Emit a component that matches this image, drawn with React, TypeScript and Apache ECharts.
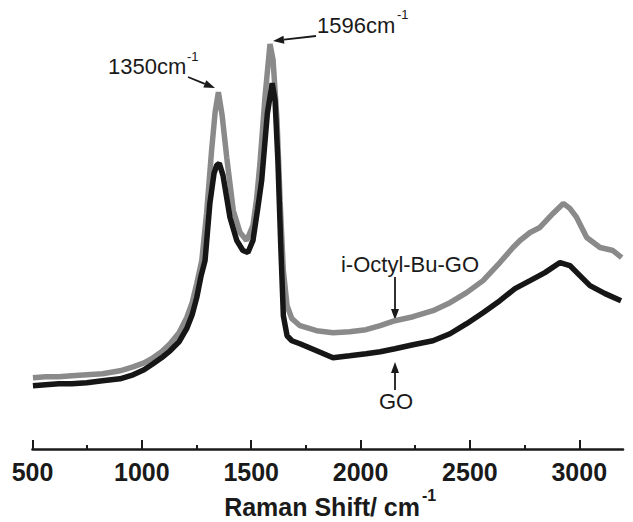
import React, { useEffect, useRef } from "react";
import * as echarts from "echarts";

// Raman spectra (intensity in arbitrary units)
const octylShift = [502, 560, 620, 680, 748, 820, 900, 960, 1010, 1051, 1090, 1129, 1170, 1205, 1230, 1251, 1274, 1296, 1319, 1335, 1350, 1367, 1388, 1418, 1449, 1479, 1508, 1525, 1540, 1563, 1586, 1600, 1618, 1632, 1647, 1664, 1686, 1723, 1799, 1874, 1950, 2025, 2090, 2157, 2240, 2331, 2409, 2485, 2560, 2637, 2697, 2729, 2775, 2820, 2850, 2880, 2927, 2957, 2988, 3034, 3095, 3154, 3194];
const octylIntensity = [71, 72, 72, 73, 74, 75, 78, 82, 86, 91, 97, 105, 116, 131, 146, 165, 188, 235, 298, 336, 356, 333, 291, 238, 216, 208, 223, 250, 285, 351, 404, 388, 328, 248, 178, 143, 130, 123, 118, 116, 117, 119, 123, 128, 132, 138, 146, 156, 168, 186, 201, 208, 216, 221, 228, 235, 245, 240, 231, 211, 201, 198, 191];

const goShift = [502, 560, 620, 680, 748, 820, 900, 960, 1010, 1051, 1090, 1129, 1170, 1205, 1230, 1251, 1270, 1289, 1311, 1330, 1342, 1354, 1371, 1403, 1434, 1462, 1485, 1508, 1530, 1548, 1574, 1596, 1609, 1622, 1636, 1647, 1664, 1686, 1723, 1799, 1874, 1950, 2025, 2090, 2157, 2240, 2331, 2409, 2485, 2560, 2637, 2706, 2775, 2843, 2912, 2957, 3003, 3049, 3118, 3191];
const goIntensity = [63, 64, 65, 65, 66, 68, 70, 74, 79, 85, 91, 98, 107, 120, 134, 151, 172, 188, 245, 275, 283, 285, 273, 231, 208, 198, 196, 208, 240, 268, 335, 365, 348, 288, 198, 133, 113, 108, 105, 98, 91, 93, 95, 97, 100, 104, 108, 115, 125, 136, 148, 160, 168, 176, 186, 183, 173, 163, 155, 148];

const majorTicks = [500, 1000, 1500, 2000, 2500, 3000];
const minorTicks = [750, 1250, 1750, 2250, 2750];

const FONT = "'Liberation Sans', Arial, sans-serif";
const INK = "#1a1a1a";

function arrow(x1: number, y1: number, x2: number, y2: number) {
  const dx = x2 - x1;
  const dy = y2 - y1;
  const len = Math.sqrt(dx * dx + dy * dy);
  const ux = dx / len;
  const uy = dy / len;
  const hl = 11;
  const hw = 4;
  const bx = x2 - ux * hl;
  const by = y2 - uy * hl;
  return [
    {
      type: "line",
      shape: { x1, y1, x2: bx, y2: by },
      style: { stroke: INK, lineWidth: 1.8 },
    },
    {
      type: "polygon",
      shape: {
        points: [
          [x2, y2],
          [bx - uy * hw, by + ux * hw],
          [bx + uy * hw, by - ux * hw],
        ],
      },
      style: { fill: INK },
    },
  ];
}

function txt(x: number, y: number, text: string, size: number, weight: string, align: string) {
  return {
    type: "text",
    x,
    y,
    style: {
      text,
      font: `${weight} ${size}px ${FONT}`,
      fill: INK,
      textAlign: align,
      textVerticalAlign: "middle",
    },
  };
}

export default function App() {
  const ref = useRef<HTMLDivElement>(null);

  useEffect(() => {
    document.body.style.margin = "0";
    if (!ref.current) return;
    const chart = echarts.init(ref.current, null, { renderer: "svg" });

    const octylData = octylShift.map((x, i) => [x, octylIntensity[i]]);
    const goData = goShift.map((x, i) => [x, goIntensity[i]]);

    const option: any = {
      animation: false,
      backgroundColor: "#ffffff",
      grid: { left: 32.5, right: 10, top: 20, bottom: 73, containLabel: false },
      xAxis: [
        {
          type: "value",
          min: 500,
          max: 3200,
          interval: 500,
          splitLine: { show: false },
          axisLine: { show: true, lineStyle: { color: INK, width: 2.6 } },
          axisTick: {
            show: true,
            inside: true,
            length: 9,
            customValues: majorTicks,
            lineStyle: { color: INK, width: 2 },
          },
          axisLabel: {
            show: true,
            customValues: majorTicks,
            formatter: (v: number) => String(v),
            fontSize: 25,
            fontWeight: "bold",
            fontFamily: FONT,
            color: INK,
            margin: 10,
          },
        },
        {
          type: "value",
          min: 500,
          max: 3200,
          interval: 500,
          position: "bottom",
          splitLine: { show: false },
          axisLine: { show: false },
          axisLabel: { show: false },
          axisTick: {
            show: true,
            inside: true,
            length: 4,
            customValues: minorTicks,
            lineStyle: { color: INK, width: 2 },
          },
        },
      ],
      yAxis: {
        type: "value",
        min: 0,
        max: 428,
        show: false,
        splitLine: { show: false },
      },
      series: [
        {
          name: "i-Octyl-Bu-GO",
          type: "line",
          data: octylData,
          showSymbol: false,
          lineStyle: { color: "#8a8a8a", width: 5.5 },
          itemStyle: { color: "#8a8a8a" },
        },
        {
          name: "GO",
          type: "line",
          data: goData,
          showSymbol: false,
          lineStyle: { color: "#161616", width: 5.5 },
          itemStyle: { color: "#161616" },
        },
      ],
      graphic: [
        txt(108, 66, "1350cm", 22, "normal", "left"),
        txt(187, 56, "-1", 13, "normal", "left"),
        ...arrow(188, 77, 215, 88),
        txt(317, 25, "1596cm", 22, "normal", "left"),
        txt(397, 14, "-1", 13, "normal", "left"),
        ...arrow(316, 36, 273, 41),
        txt(410, 264, "i-Octyl-Bu-GO", 22, "normal", "center"),
        ...arrow(395, 277, 395, 320),
        ...arrow(395, 390, 395, 362),
        txt(396, 401, "GO", 22, "normal", "center"),
        txt(420, 507, "Raman Shift/ cm", 25, "bold", "right"),
        txt(422, 495, "-1", 16, "bold", "left"),
      ],
    };

    chart.setOption(option);
    return () => chart.dispose();
  }, []);

  return <div ref={ref} style={{ width: 633, height: 522 }} />;
}
